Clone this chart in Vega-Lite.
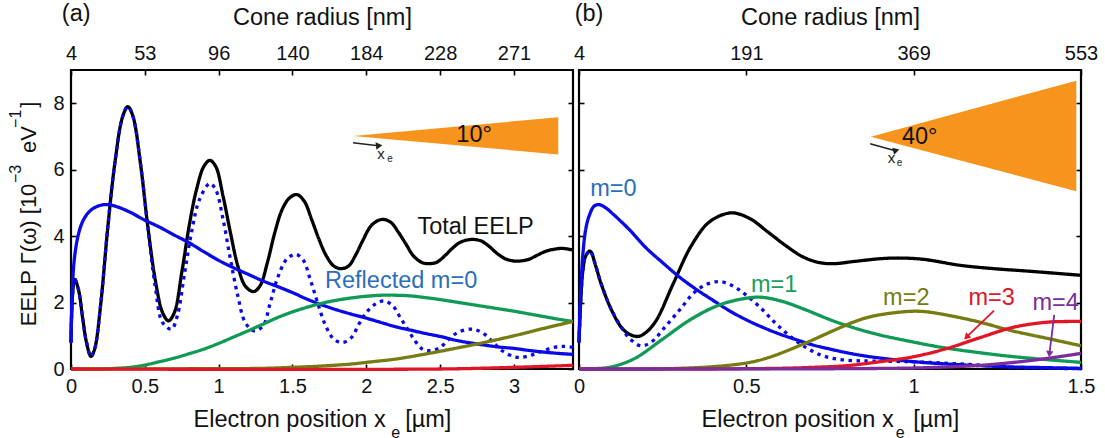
{"$schema":"https://vega.github.io/schema/vega-lite/v6.json","background":"white","padding":{"left":6,"top":0,"right":0,"bottom":8},"spacing":6,"bounds":"flush","config":{"view":{"stroke":"#000","strokeWidth":2.2},"font":"Liberation Sans","axis":{"grid":false,"domain":false,"tickColor":"#000","tickWidth":1.6,"tickSize":-5,"labelColor":"#111","titleColor":"#111","labelFont":"Liberation Sans","titleFont":"Liberation Sans","labelFontSize":20,"titleFontSize":23.5,"titleFontWeight":"normal","labelOverlap":false,"labelFlush":false,"format":".2~f"},"text":{"font":"Liberation Sans"},"line":{"strokeWidth":3.3,"interpolate":"catmull-rom"}},
"datasets":{
"a":[
{"series":"total","x":0,"y":0.8},{"series":"total","x":0.01,"y":2.2},{"series":"total","x":0.025,"y":2.7},{"series":"total","x":0.05,"y":2.4},{"series":"total","x":0.08,"y":1.5},{"series":"total","x":0.105,"y":0.8},{"series":"total","x":0.135,"y":0.38},{"series":"total","x":0.16,"y":0.6},{"series":"total","x":0.2,"y":1.9},{"series":"total","x":0.25,"y":4.3},{"series":"total","x":0.3,"y":6.3},{"series":"total","x":0.35,"y":7.6},{"series":"total","x":0.385,"y":7.9},{"series":"total","x":0.42,"y":7.6},{"series":"total","x":0.47,"y":6.2},{"series":"total","x":0.52,"y":4.3},{"series":"total","x":0.57,"y":2.7},{"series":"total","x":0.62,"y":1.7},{"series":"total","x":0.66,"y":1.45},{"series":"total","x":0.7,"y":1.7},{"series":"total","x":0.75,"y":2.9},{"series":"total","x":0.8,"y":4.3},{"series":"total","x":0.85,"y":5.4},{"series":"total","x":0.9,"y":6.1},{"series":"total","x":0.94,"y":6.28},{"series":"total","x":0.98,"y":6.1},{"series":"total","x":1.03,"y":5.2},{"series":"total","x":1.08,"y":4.1},{"series":"total","x":1.13,"y":3.1},{"series":"total","x":1.18,"y":2.5},{"series":"total","x":1.235,"y":2.33},{"series":"total","x":1.28,"y":2.5},{"series":"total","x":1.33,"y":3.2},{"series":"total","x":1.38,"y":4.1},{"series":"total","x":1.43,"y":4.8},{"series":"total","x":1.48,"y":5.15},{"series":"total","x":1.53,"y":5.25},{"series":"total","x":1.58,"y":5.05},{"series":"total","x":1.63,"y":4.5},{"series":"total","x":1.68,"y":3.9},{"series":"total","x":1.73,"y":3.4},{"series":"total","x":1.78,"y":3.1},{"series":"total","x":1.83,"y":3.02},{"series":"total","x":1.88,"y":3.1},{"series":"total","x":1.93,"y":3.45},{"series":"total","x":1.98,"y":3.9},{"series":"total","x":2.03,"y":4.3},{"series":"total","x":2.08,"y":4.47},{"series":"total","x":2.12,"y":4.5},{"series":"total","x":2.17,"y":4.4},{"series":"total","x":2.22,"y":4.1},{"series":"total","x":2.27,"y":3.75},{"series":"total","x":2.32,"y":3.4},{"series":"total","x":2.38,"y":3.2},{"series":"total","x":2.43,"y":3.17},{"series":"total","x":2.48,"y":3.22},{"series":"total","x":2.53,"y":3.4},{"series":"total","x":2.58,"y":3.62},{"series":"total","x":2.63,"y":3.8},{"series":"total","x":2.68,"y":3.88},{"series":"total","x":2.73,"y":3.9},{"series":"total","x":2.78,"y":3.85},{"series":"total","x":2.83,"y":3.7},{"series":"total","x":2.88,"y":3.5},{"series":"total","x":2.94,"y":3.32},{"series":"total","x":3.0,"y":3.25},{"series":"total","x":3.04,"y":3.25},{"series":"total","x":3.1,"y":3.3},{"series":"total","x":3.16,"y":3.43},{"series":"total","x":3.22,"y":3.55},{"series":"total","x":3.28,"y":3.61},{"series":"total","x":3.33,"y":3.63},{"series":"total","x":3.4,"y":3.58},
{"series":"reflected","x":0,"y":0.8},{"series":"reflected","x":0.01,"y":2.2},{"series":"reflected","x":0.025,"y":2.7},{"series":"reflected","x":0.05,"y":2.4},{"series":"reflected","x":0.08,"y":1.5},{"series":"reflected","x":0.105,"y":0.8},{"series":"reflected","x":0.135,"y":0.38},{"series":"reflected","x":0.16,"y":0.6},{"series":"reflected","x":0.2,"y":1.9},{"series":"reflected","x":0.25,"y":4.3},{"series":"reflected","x":0.3,"y":6.3},{"series":"reflected","x":0.35,"y":7.6},{"series":"reflected","x":0.385,"y":7.9},{"series":"reflected","x":0.42,"y":7.6},{"series":"reflected","x":0.47,"y":6.2},{"series":"reflected","x":0.52,"y":4.3},{"series":"reflected","x":0.57,"y":2.5},{"series":"reflected","x":0.62,"y":1.4},{"series":"reflected","x":0.68,"y":1.2},{"series":"reflected","x":0.72,"y":1.6},{"series":"reflected","x":0.77,"y":2.9},{"series":"reflected","x":0.82,"y":4.2},{"series":"reflected","x":0.87,"y":5.1},{"series":"reflected","x":0.94,"y":5.58},{"series":"reflected","x":0.98,"y":5.4},{"series":"reflected","x":1.03,"y":4.5},{"series":"reflected","x":1.08,"y":3.3},{"series":"reflected","x":1.13,"y":2.2},{"series":"reflected","x":1.18,"y":1.4},{"series":"reflected","x":1.24,"y":1.15},{"series":"reflected","x":1.3,"y":1.3},{"series":"reflected","x":1.35,"y":2.0},{"series":"reflected","x":1.4,"y":2.75},{"series":"reflected","x":1.46,"y":3.3},{"series":"reflected","x":1.52,"y":3.45},{"series":"reflected","x":1.57,"y":3.3},{"series":"reflected","x":1.62,"y":2.7},{"series":"reflected","x":1.67,"y":2.0},{"series":"reflected","x":1.72,"y":1.35},{"series":"reflected","x":1.78,"y":0.9},{"series":"reflected","x":1.84,"y":0.8},{"series":"reflected","x":1.9,"y":0.95},{"series":"reflected","x":1.95,"y":1.35},{"series":"reflected","x":2.0,"y":1.7},{"series":"reflected","x":2.06,"y":1.95},{"series":"reflected","x":2.12,"y":2.05},{"series":"reflected","x":2.18,"y":1.9},{"series":"reflected","x":2.23,"y":1.55},{"series":"reflected","x":2.28,"y":1.2},{"series":"reflected","x":2.33,"y":0.85},{"series":"reflected","x":2.38,"y":0.6},{"series":"reflected","x":2.43,"y":0.55},{"series":"reflected","x":2.5,"y":0.65},{"series":"reflected","x":2.56,"y":0.9},{"series":"reflected","x":2.62,"y":1.1},{"series":"reflected","x":2.72,"y":1.2},{"series":"reflected","x":2.8,"y":1.05},{"series":"reflected","x":2.86,"y":0.8},{"series":"reflected","x":2.92,"y":0.55},{"series":"reflected","x":3.0,"y":0.37},{"series":"reflected","x":3.05,"y":0.35},{"series":"reflected","x":3.12,"y":0.42},{"series":"reflected","x":3.2,"y":0.55},{"series":"reflected","x":3.28,"y":0.66},{"series":"reflected","x":3.34,"y":0.68},{"series":"reflected","x":3.4,"y":0.65},
{"series":"m0","x":0,"y":0.8},{"series":"m0","x":0.01,"y":2.5},{"series":"m0","x":0.025,"y":3.4},{"series":"m0","x":0.05,"y":4.05},{"series":"m0","x":0.08,"y":4.45},{"series":"m0","x":0.12,"y":4.72},{"series":"m0","x":0.17,"y":4.88},{"series":"m0","x":0.23,"y":4.95},{"series":"m0","x":0.3,"y":4.9},{"series":"m0","x":0.4,"y":4.72},{"series":"m0","x":0.5,"y":4.48},{"series":"m0","x":0.6,"y":4.27},{"series":"m0","x":0.7,"y":4.03},{"series":"m0","x":0.8,"y":3.8},{"series":"m0","x":0.9,"y":3.53},{"series":"m0","x":1.0,"y":3.27},{"series":"m0","x":1.1,"y":3.05},{"series":"m0","x":1.2,"y":2.85},{"series":"m0","x":1.3,"y":2.65},{"series":"m0","x":1.4,"y":2.48},{"series":"m0","x":1.5,"y":2.3},{"series":"m0","x":1.6,"y":2.1},{"series":"m0","x":1.7,"y":1.93},{"series":"m0","x":1.8,"y":1.78},{"series":"m0","x":1.9,"y":1.65},{"series":"m0","x":2.0,"y":1.53},{"series":"m0","x":2.1,"y":1.4},{"series":"m0","x":2.2,"y":1.27},{"series":"m0","x":2.3,"y":1.17},{"series":"m0","x":2.4,"y":1.07},{"series":"m0","x":2.5,"y":0.98},{"series":"m0","x":2.6,"y":0.87},{"series":"m0","x":2.7,"y":0.79},{"series":"m0","x":2.8,"y":0.72},{"series":"m0","x":2.9,"y":0.66},{"series":"m0","x":3.0,"y":0.62},{"series":"m0","x":3.1,"y":0.56},{"series":"m0","x":3.2,"y":0.51},{"series":"m0","x":3.3,"y":0.47},{"series":"m0","x":3.4,"y":0.44},
{"series":"m1","x":0,"y":0},{"series":"m1","x":0.2,"y":0},{"series":"m1","x":0.3,"y":0.02},{"series":"m1","x":0.4,"y":0.05},{"series":"m1","x":0.5,"y":0.12},{"series":"m1","x":0.6,"y":0.22},{"series":"m1","x":0.7,"y":0.33},{"series":"m1","x":0.8,"y":0.46},{"series":"m1","x":0.9,"y":0.6},{"series":"m1","x":1.0,"y":0.77},{"series":"m1","x":1.1,"y":0.96},{"series":"m1","x":1.2,"y":1.15},{"series":"m1","x":1.3,"y":1.35},{"series":"m1","x":1.4,"y":1.55},{"series":"m1","x":1.5,"y":1.72},{"series":"m1","x":1.6,"y":1.86},{"series":"m1","x":1.7,"y":1.98},{"series":"m1","x":1.8,"y":2.07},{"series":"m1","x":1.9,"y":2.14},{"series":"m1","x":2.0,"y":2.19},{"series":"m1","x":2.1,"y":2.22},{"series":"m1","x":2.2,"y":2.22},{"series":"m1","x":2.3,"y":2.2},{"series":"m1","x":2.4,"y":2.15},{"series":"m1","x":2.5,"y":2.09},{"series":"m1","x":2.6,"y":2.02},{"series":"m1","x":2.7,"y":1.95},{"series":"m1","x":2.8,"y":1.88},{"series":"m1","x":2.9,"y":1.81},{"series":"m1","x":3.0,"y":1.74},{"series":"m1","x":3.1,"y":1.66},{"series":"m1","x":3.2,"y":1.58},{"series":"m1","x":3.3,"y":1.5},{"series":"m1","x":3.4,"y":1.43},
{"series":"m2","x":0,"y":0},{"series":"m2","x":1.0,"y":0.01},{"series":"m2","x":1.3,"y":0.02},{"series":"m2","x":1.5,"y":0.05},{"series":"m2","x":1.7,"y":0.09},{"series":"m2","x":1.9,"y":0.15},{"series":"m2","x":2.0,"y":0.2},{"series":"m2","x":2.2,"y":0.3},{"series":"m2","x":2.4,"y":0.45},{"series":"m2","x":2.6,"y":0.62},{"series":"m2","x":2.8,"y":0.8},{"series":"m2","x":3.0,"y":1.0},{"series":"m2","x":3.2,"y":1.22},{"series":"m2","x":3.4,"y":1.43},
{"series":"m3","x":0,"y":0},{"series":"m3","x":2.5,"y":0},{"series":"m3","x":3.0,"y":0.05},{"series":"m3","x":3.4,"y":0.11}],
"b":[
{"series":"total","x":0,"y":0.8},{"series":"total","x":0.005,"y":2.0},{"series":"total","x":0.012,"y":3.0},{"series":"total","x":0.02,"y":3.4},{"series":"total","x":0.033,"y":3.55},{"series":"total","x":0.05,"y":3.1},{"series":"total","x":0.065,"y":2.6},{"series":"total","x":0.096,"y":1.8},{"series":"total","x":0.127,"y":1.25},{"series":"total","x":0.15,"y":1.05},{"series":"total","x":0.177,"y":0.98},{"series":"total","x":0.2,"y":1.1},{"series":"total","x":0.23,"y":1.45},{"series":"total","x":0.283,"y":2.6},{"series":"total","x":0.335,"y":3.7},{"series":"total","x":0.39,"y":4.43},{"series":"total","x":0.455,"y":4.7},{"series":"total","x":0.51,"y":4.53},{"series":"total","x":0.565,"y":4.12},{"series":"total","x":0.617,"y":3.72},{"series":"total","x":0.67,"y":3.37},{"series":"total","x":0.72,"y":3.2},{"series":"total","x":0.76,"y":3.17},{"series":"total","x":0.825,"y":3.24},{"series":"total","x":0.9,"y":3.32},{"series":"total","x":0.96,"y":3.34},{"series":"total","x":1.03,"y":3.3},{"series":"total","x":1.14,"y":3.12},{"series":"total","x":1.24,"y":3.02},{"series":"total","x":1.35,"y":2.94},{"series":"total","x":1.5,"y":2.82},
{"series":"reflected","x":0,"y":0.8},{"series":"reflected","x":0.005,"y":2.0},{"series":"reflected","x":0.012,"y":3.0},{"series":"reflected","x":0.02,"y":3.4},{"series":"reflected","x":0.033,"y":3.55},{"series":"reflected","x":0.05,"y":3.1},{"series":"reflected","x":0.065,"y":2.6},{"series":"reflected","x":0.096,"y":1.8},{"series":"reflected","x":0.127,"y":1.25},{"series":"reflected","x":0.148,"y":0.95},{"series":"reflected","x":0.184,"y":0.7},{"series":"reflected","x":0.215,"y":0.8},{"series":"reflected","x":0.26,"y":1.3},{"series":"reflected","x":0.305,"y":1.83},{"series":"reflected","x":0.34,"y":2.26},{"series":"reflected","x":0.377,"y":2.53},{"series":"reflected","x":0.42,"y":2.63},{"series":"reflected","x":0.46,"y":2.5},{"series":"reflected","x":0.5,"y":2.22},{"series":"reflected","x":0.545,"y":1.82},{"series":"reflected","x":0.585,"y":1.4},{"series":"reflected","x":0.627,"y":1.02},{"series":"reflected","x":0.67,"y":0.7},{"series":"reflected","x":0.72,"y":0.43},{"series":"reflected","x":0.77,"y":0.3},{"series":"reflected","x":0.825,"y":0.25},{"series":"reflected","x":0.877,"y":0.24},{"series":"reflected","x":0.98,"y":0.22},{"series":"reflected","x":1.085,"y":0.18},{"series":"reflected","x":1.19,"y":0.12},{"series":"reflected","x":1.29,"y":0.05},{"series":"reflected","x":1.5,"y":0.01},
{"series":"m0","x":0,"y":0.8},{"series":"m0","x":0.005,"y":2.3},{"series":"m0","x":0.012,"y":3.5},{"series":"m0","x":0.02,"y":4.2},{"series":"m0","x":0.03,"y":4.6},{"series":"m0","x":0.045,"y":4.9},{"series":"m0","x":0.06,"y":4.95},{"series":"m0","x":0.08,"y":4.85},{"series":"m0","x":0.1,"y":4.68},{"series":"m0","x":0.15,"y":4.2},{"series":"m0","x":0.2,"y":3.65},{"series":"m0","x":0.25,"y":3.2},{"series":"m0","x":0.3,"y":2.77},{"series":"m0","x":0.35,"y":2.4},{"series":"m0","x":0.4,"y":2.07},{"series":"m0","x":0.45,"y":1.75},{"series":"m0","x":0.5,"y":1.48},{"series":"m0","x":0.55,"y":1.25},{"series":"m0","x":0.6,"y":1.05},{"series":"m0","x":0.65,"y":0.88},{"series":"m0","x":0.7,"y":0.72},{"series":"m0","x":0.75,"y":0.6},{"series":"m0","x":0.8,"y":0.49},{"series":"m0","x":0.85,"y":0.4},{"series":"m0","x":0.9,"y":0.33},{"series":"m0","x":1.0,"y":0.22},{"series":"m0","x":1.1,"y":0.15},{"series":"m0","x":1.2,"y":0.1},{"series":"m0","x":1.3,"y":0.06},{"series":"m0","x":1.4,"y":0.04},{"series":"m0","x":1.5,"y":0.02},
{"series":"m1","x":0,"y":0},{"series":"m1","x":0.05,"y":0.01},{"series":"m1","x":0.1,"y":0.07},{"series":"m1","x":0.167,"y":0.32},{"series":"m1","x":0.25,"y":0.9},{"series":"m1","x":0.335,"y":1.5},{"series":"m1","x":0.42,"y":1.93},{"series":"m1","x":0.5,"y":2.13},{"series":"m1","x":0.545,"y":2.16},{"series":"m1","x":0.606,"y":2.04},{"series":"m1","x":0.67,"y":1.81},{"series":"m1","x":0.77,"y":1.41},{"series":"m1","x":0.877,"y":1.08},{"series":"m1","x":0.98,"y":0.85},{"series":"m1","x":1.085,"y":0.65},{"series":"m1","x":1.19,"y":0.5},{"series":"m1","x":1.29,"y":0.38},{"series":"m1","x":1.4,"y":0.28},{"series":"m1","x":1.5,"y":0.2},
{"series":"m2","x":0,"y":0},{"series":"m2","x":0.2,"y":0},{"series":"m2","x":0.3,"y":0.02},{"series":"m2","x":0.4,"y":0.07},{"series":"m2","x":0.5,"y":0.18},{"series":"m2","x":0.565,"y":0.34},{"series":"m2","x":0.67,"y":0.75},{"series":"m2","x":0.77,"y":1.2},{"series":"m2","x":0.825,"y":1.43},{"series":"m2","x":0.877,"y":1.59},{"series":"m2","x":0.98,"y":1.73},{"series":"m2","x":1.03,"y":1.73},{"series":"m2","x":1.085,"y":1.65},{"series":"m2","x":1.19,"y":1.43},{"series":"m2","x":1.29,"y":1.16},{"series":"m2","x":1.4,"y":0.92},{"series":"m2","x":1.5,"y":0.7},
{"series":"m3","x":0,"y":0},{"series":"m3","x":0.4,"y":0},{"series":"m3","x":0.5,"y":0.01},{"series":"m3","x":0.6,"y":0.02},{"series":"m3","x":0.7,"y":0.05},{"series":"m3","x":0.8,"y":0.1},{"series":"m3","x":0.9,"y":0.22},{"series":"m3","x":1.0,"y":0.37},{"series":"m3","x":1.1,"y":0.62},{"series":"m3","x":1.2,"y":0.95},{"series":"m3","x":1.3,"y":1.26},{"series":"m3","x":1.4,"y":1.41},{"series":"m3","x":1.5,"y":1.43},
{"series":"m4","x":0,"y":0},{"series":"m4","x":0.8,"y":0.01},{"series":"m4","x":1.0,"y":0.03},{"series":"m4","x":1.1,"y":0.06},{"series":"m4","x":1.2,"y":0.11},{"series":"m4","x":1.3,"y":0.2},{"series":"m4","x":1.4,"y":0.32},{"series":"m4","x":1.5,"y":0.47}]
},
"hconcat":[
{"width":502,"height":299,"resolve":{"axis":{"x":"independent","y":"independent"}},
"encoding":{"x":{"field":"x","type":"quantitative","scale":{"domain":[0,3.4],"nice":false,"zero":false},"axis":null},"y":{"field":"y","type":"quantitative","scale":{"domain":[0,9],"nice":false},"axis":null}},
"layer":[
{"data":{"values":[{"x":1.91,"y":7.01,"y2":7.01},{"x":3.3,"y":7.58,"y2":6.46}]},"mark":{"type":"area","fill":"#f7941d","interpolate":"linear"},"encoding":{"y2":{"field":"y2"},
"x":{"field":"x","type":"quantitative","scale":{"domain":[0,3.4],"nice":false,"zero":false},"axis":{"orient":"top","values":[0,0.5,1,1.5,2,2.5,3],"labelExpr":"{'0':'4','0.5':'53','1':'96','1.5':'140','2':'184','2.5':'228','3':'271'}[datum.label]","labelPadding":12,"title":"Cone radius [nm]","titlePadding":14}},
"y":{"field":"y","type":"quantitative","scale":{"domain":[0,9],"nice":false},"axis":{"orient":"right","values":[0,2,4,6,8],"labels":false,"title":null}}}},
{"data":{"name":"a"},"mark":{"type":"line"},"encoding":{"x":{"field":"x","type":"quantitative","scale":{"domain":[0,3.4],"nice":false,"zero":false},"axis":{"orient":"bottom","values":[0,0.5,1,1.5,2,2.5,3],"labelPadding":12,"title":"Electron position x\u00a0\u00a0\u00a0[µm]","titlePadding":11}},"y":{"field":"y","type":"quantitative","scale":{"domain":[0,9],"nice":false},"axis":{"orient":"left","values":[0,2,4,6,8],"labelPadding":12,"title":"EELP Γ(ω) [10\u00a0\u00a0\u00a0\u00a0\u00a0eV\u00a0\u00a0\u00a0]","titleFontSize":22,"titleX":-36,"titleY":143.5,"titleBaseline":"alphabetic"}},
"color":{"field":"series","type":"nominal","legend":null,"scale":{"domain":["total","reflected","m0","m1","m2","m3","m4"],"range":["#000000","#0a0ae8","#0a0ae8","#0f9a55","#767c12","#e01525","#7c2d9c"]}},
"strokeDash":{"field":"series","type":"nominal","legend":null,"scale":{"domain":["total","reflected","m0","m1","m2","m3","m4"],"range":[[1,0],[3.5,4.5],[1,0],[1,0],[1,0],[1,0],[1,0]]}}}},
{"data":{"values":[{"x":1.91,"y":6.81},{"x":2.08,"y":6.72}]},"mark":{"type":"line","stroke":"#222","strokeWidth":1.6,"interpolate":"linear"}},
{"data":{"values":[{"x":2.08,"y":6.72}]},"mark":{"type":"point","shape":"triangle","filled":true,"color":"#222","opacity":1,"angle":83,"size":55}},
{"data":{"values":[{"x":0.035,"y":10.7,"label":"(a)"},{"x":2.74,"y":4.28,"label":"Total EELP"},{"x":2.73,"y":7.04,"label":"10°"}]},"mark":{"type":"text","fontSize":23.5,"color":"#111","align":"center","baseline":"middle"},"encoding":{"text":{"field":"label"}}},
{"data":{"values":[{"x":2.236,"y":2.64,"label":"Reflected m=0"}]},"mark":{"type":"text","fontSize":23.5,"color":"#2a6ebb","align":"center","baseline":"middle"},"encoding":{"text":{"field":"label"}}},
{"data":{"values":[{"x":2.1,"y":6.47,"label":"x"}]},"mark":{"type":"text","fontSize":15,"color":"#222","align":"center","baseline":"middle"},"encoding":{"text":{"field":"label"}}},
{"data":{"values":[{"x":2.16,"y":6.33,"label":"e"}]},"mark":{"type":"text","fontSize":10,"color":"#222","align":"center","baseline":"middle"},"encoding":{"text":{"field":"label"}}},
{"data":{"values":[{"x":2.2,"y":-1.93,"label":"e"}]},"mark":{"type":"text","fontSize":16,"color":"#111","align":"center","baseline":"middle"},"encoding":{"text":{"field":"label"}}},
{"data":{"values":[{"x":-0.373,"y":5.87,"label":"−3"},{"x":-0.373,"y":7.53,"label":"−1"}]},"mark":{"type":"text","fontSize":16,"color":"#111","align":"center","baseline":"middle","angle":270},"encoding":{"text":{"field":"label"}}}
]},
{"width":502,"height":299,"resolve":{"axis":{"x":"independent","y":"independent"}},
"encoding":{"x":{"field":"x","type":"quantitative","scale":{"domain":[0,1.5],"nice":false,"zero":false},"axis":null},"y":{"field":"y","type":"quantitative","scale":{"domain":[0,9],"nice":false},"axis":null}},
"layer":[
{"data":{"values":[{"x":0.872,"y":6.99,"y2":6.99},{"x":1.486,"y":8.68,"y2":5.35}]},"mark":{"type":"area","fill":"#f7941d","interpolate":"linear"},"encoding":{"y2":{"field":"y2"},
"x":{"field":"x","type":"quantitative","scale":{"domain":[0,1.5],"nice":false,"zero":false},"axis":{"orient":"top","values":[0,0.5,1,1.5],"labelExpr":"{'0':'4','0.5':'191','1':'369','1.5':'553'}[datum.label]","labelPadding":12,"title":"Cone radius [nm]","titlePadding":14}},
"y":{"field":"y","type":"quantitative","scale":{"domain":[0,9],"nice":false},"axis":{"orient":"right","values":[0,2,4,6,8],"labels":false,"title":null}}}},
{"data":{"name":"b"},"mark":{"type":"line"},"encoding":{"x":{"field":"x","type":"quantitative","scale":{"domain":[0,1.5],"nice":false,"zero":false},"axis":{"orient":"bottom","values":[0,0.5,1,1.5],"labelPadding":12,"title":"Electron position x\u00a0\u00a0\u00a0[µm]","titlePadding":11}},"y":{"field":"y","type":"quantitative","scale":{"domain":[0,9],"nice":false},"axis":{"orient":"left","values":[0,2,4,6,8],"labels":false,"title":null}},
"color":{"field":"series","type":"nominal","legend":null,"scale":{"domain":["total","reflected","m0","m1","m2","m3","m4"],"range":["#000000","#0a0ae8","#0a0ae8","#0f9a55","#767c12","#e01525","#7c2d9c"]}},
"strokeDash":{"field":"series","type":"nominal","legend":null,"scale":{"domain":["total","reflected","m0","m1","m2","m3","m4"],"range":[[1,0],[3.5,4.5],[1,0],[1,0],[1,0],[1,0],[1,0]]}}}},
{"data":{"values":[{"x":0.87,"y":6.78},{"x":0.945,"y":6.57}]},"mark":{"type":"line","stroke":"#222","strokeWidth":1.6,"interpolate":"linear"}},
{"data":{"values":[{"x":0.945,"y":6.57}]},"mark":{"type":"point","shape":"triangle","filled":true,"color":"#222","opacity":1,"angle":75,"size":55}},
{"data":{"values":[{"x":1.24,"y":1.76},{"x":1.16,"y":0.98}]},"mark":{"type":"line","stroke":"#e01525","strokeWidth":1.8,"interpolate":"linear"}},
{"data":{"values":[{"x":1.16,"y":0.98}]},"mark":{"type":"point","shape":"triangle","filled":true,"color":"#e01525","opacity":1,"angle":225,"size":55}},
{"data":{"values":[{"x":1.42,"y":1.63},{"x":1.406,"y":0.48}]},"mark":{"type":"line","stroke":"#7c2d9c","strokeWidth":1.8,"interpolate":"linear"}},
{"data":{"values":[{"x":1.406,"y":0.48}]},"mark":{"type":"point","shape":"triangle","filled":true,"color":"#7c2d9c","opacity":1,"angle":187,"size":55}},
{"data":{"values":[{"x":0.03,"y":10.7,"label":"(b)"},{"x":1.018,"y":6.99,"label":"40°"}]},"mark":{"type":"text","fontSize":23.5,"color":"#111","align":"center","baseline":"middle"},"encoding":{"text":{"field":"label"}}},
{"data":{"values":[{"x":0.103,"y":5.43,"label":"m=0"}]},"mark":{"type":"text","fontSize":23.5,"color":"#2a6ebb","align":"center","baseline":"middle"},"encoding":{"text":{"field":"label"}}},
{"data":{"values":[{"x":0.583,"y":2.52,"label":"m=1"}]},"mark":{"type":"text","fontSize":23.5,"color":"#17a05d","align":"center","baseline":"middle"},"encoding":{"text":{"field":"label"}}},
{"data":{"values":[{"x":0.978,"y":2.13,"label":"m=2"}]},"mark":{"type":"text","fontSize":23.5,"color":"#767c12","align":"center","baseline":"middle"},"encoding":{"text":{"field":"label"}}},
{"data":{"values":[{"x":1.233,"y":2.13,"label":"m=3"}]},"mark":{"type":"text","fontSize":23.5,"color":"#e01525","align":"center","baseline":"middle"},"encoding":{"text":{"field":"label"}}},
{"data":{"values":[{"x":1.424,"y":1.98,"label":"m=4"}]},"mark":{"type":"text","fontSize":23.5,"color":"#7c2d9c","align":"center","baseline":"middle"},"encoding":{"text":{"field":"label"}}},
{"data":{"values":[{"x":0.934,"y":6.34,"label":"x"}]},"mark":{"type":"text","fontSize":15,"color":"#222","align":"center","baseline":"middle"},"encoding":{"text":{"field":"label"}}},
{"data":{"values":[{"x":0.958,"y":6.19,"label":"e"}]},"mark":{"type":"text","fontSize":10,"color":"#222","align":"center","baseline":"middle"},"encoding":{"text":{"field":"label"}}},
{"data":{"values":[{"x":0.96,"y":-1.93,"label":"e"}]},"mark":{"type":"text","fontSize":16,"color":"#111","align":"center","baseline":"middle"},"encoding":{"text":{"field":"label"}}}
]}
]}
